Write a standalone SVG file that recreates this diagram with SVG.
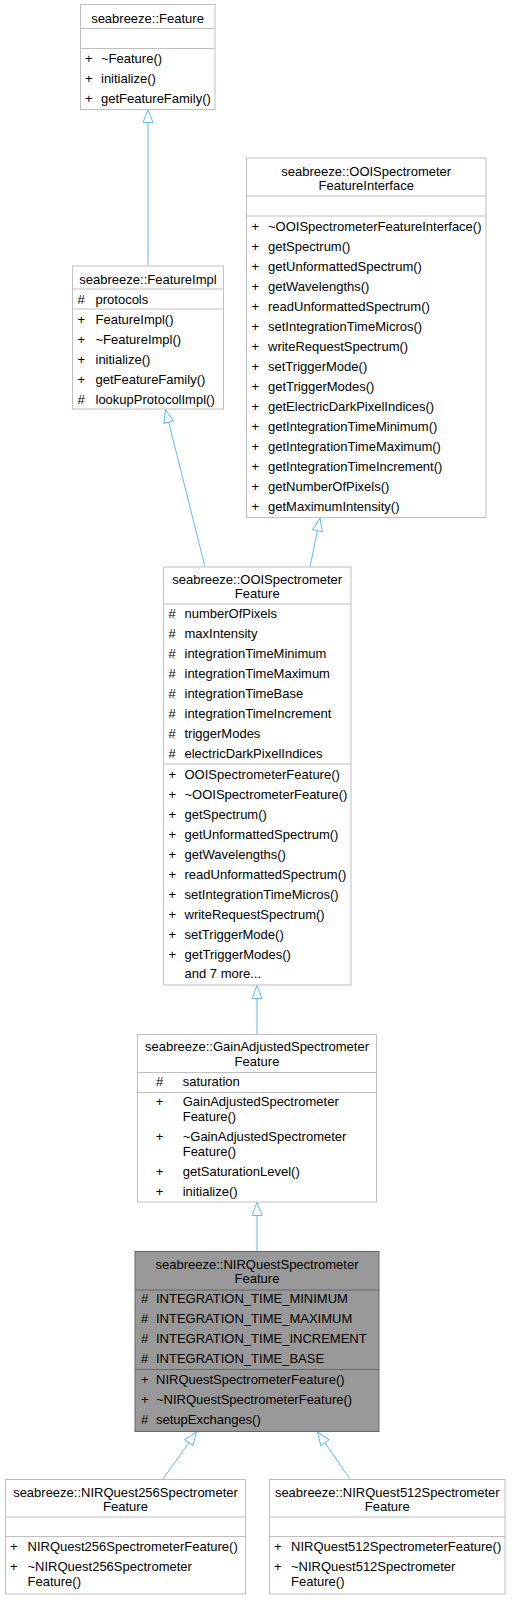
<svg xmlns="http://www.w3.org/2000/svg" width="515" height="1600" viewBox="0 0 515 1600">
<style>
text{font-family:"Liberation Sans",Arial,Helvetica,sans-serif;font-size:13px;fill:#000}
.c{text-anchor:middle}
.box{fill:#fff;stroke:#bfbfbf;stroke-width:1}
.sep{stroke:#bfbfbf;stroke-width:1}
.fbox{fill:#999999;stroke:#666666;stroke-width:1}
.fsep{stroke:#666666;stroke-width:1}
.edge{fill:none;stroke:#63b8ff;stroke-width:1;marker-end:url(#inh)}
</style>
<defs>
<marker id="inh" markerUnits="userSpaceOnUse" markerWidth="16" markerHeight="14" viewBox="-15 -7 16 14" refX="0" refY="0" orient="auto" overflow="visible">
<path d="M0,0 L-13,-5 L-13,5 Z" fill="#fff" stroke="#63b8ff" stroke-width="1"/>
</marker>
</defs>
<rect x="0" y="0" width="515" height="1600" fill="#fff"/>

<g id="connectors">
<path class="edge" d="M148,266 L148,109.5"/>
<path class="edge" d="M205,567 L165.5,409.5"/>
<path class="edge" d="M310,567 L320,518"/>
<path class="edge" d="M257,1034.5 L257,985.5"/>
<path class="edge" d="M257,1251.5 L257,1202.5"/>
<path class="edge" d="M163,1479 L196.5,1432"/>
<path class="edge" d="M350,1479 L317.5,1432"/>
</g>

<g id="feature">
<rect class="box" x="80.5" y="4.5" width="134.5" height="105"/>
<text class="c" x="147.5" y="22.5">seabreeze::Feature</text>
<line class="sep" x1="80.5" y1="28.5" x2="215" y2="28.5"/>
<line class="sep" x1="80.5" y1="48.5" x2="215" y2="48.5"/>
<text x="85" y="62.5">+</text><text x="101" y="62.5">~Feature()</text>
<text x="85" y="82.5">+</text><text x="101" y="82.5">initialize()</text>
<text x="85" y="102.5">+</text><text x="101" y="102.5">getFeatureFamily()</text>
</g>

<g id="featureimpl">
<rect class="box" x="72.5" y="266" width="151" height="143"/>
<text class="c" x="148" y="283.5">seabreeze::FeatureImpl</text>
<line class="sep" x1="72.5" y1="289" x2="223.5" y2="289"/>
<text x="77.5" y="303.5">#</text><text x="95.5" y="303.5">protocols</text>
<line class="sep" x1="72.5" y1="309" x2="223.5" y2="309"/>
<text x="77.5" y="323.5">+</text><text x="95.5" y="323.5">FeatureImpl()</text>
<text x="77.5" y="343.5">+</text><text x="95.5" y="343.5">~FeatureImpl()</text>
<text x="77.5" y="363.5">+</text><text x="95.5" y="363.5">initialize()</text>
<text x="77.5" y="383.5">+</text><text x="95.5" y="383.5">getFeatureFamily()</text>
<text x="77.5" y="403.5">#</text><text x="95.5" y="403.5">lookupProtocolImpl()</text>
</g>

<g id="ooifeatureinterface">
<rect class="box" x="246.5" y="158" width="239.5" height="359.5"/>
<text class="c" x="366.25" y="176">seabreeze::OOISpectrometer</text>
<text class="c" x="366.25" y="190">FeatureInterface</text>
<line class="sep" x1="246.5" y1="196" x2="486" y2="196"/>
<line class="sep" x1="246.5" y1="216" x2="486" y2="216"/>
<text x="251.5" y="230.5">+</text><text x="268" y="230.5">~OOISpectrometerFeatureInterface()</text>
<text x="251.5" y="250.5">+</text><text x="268" y="250.5">getSpectrum()</text>
<text x="251.5" y="270.5">+</text><text x="268" y="270.5">getUnformattedSpectrum()</text>
<text x="251.5" y="290.5">+</text><text x="268" y="290.5">getWavelengths()</text>
<text x="251.5" y="310.5">+</text><text x="268" y="310.5">readUnformattedSpectrum()</text>
<text x="251.5" y="330.5">+</text><text x="268" y="330.5">setIntegrationTimeMicros()</text>
<text x="251.5" y="350.5">+</text><text x="268" y="350.5">writeRequestSpectrum()</text>
<text x="251.5" y="370.5">+</text><text x="268" y="370.5">setTriggerMode()</text>
<text x="251.5" y="390.5">+</text><text x="268" y="390.5">getTriggerModes()</text>
<text x="251.5" y="410.5">+</text><text x="268" y="410.5">getElectricDarkPixelIndices()</text>
<text x="251.5" y="430.5">+</text><text x="268" y="430.5">getIntegrationTimeMinimum()</text>
<text x="251.5" y="450.5">+</text><text x="268" y="450.5">getIntegrationTimeMaximum()</text>
<text x="251.5" y="470.5">+</text><text x="268" y="470.5">getIntegrationTimeIncrement()</text>
<text x="251.5" y="490.5">+</text><text x="268" y="490.5">getNumberOfPixels()</text>
<text x="251.5" y="510.5">+</text><text x="268" y="510.5">getMaximumIntensity()</text>
</g>

<g id="ooifeature">
<rect class="box" x="163.5" y="567" width="187.5" height="418"/>
<text class="c" x="257.25" y="584">seabreeze::OOISpectrometer</text>
<text class="c" x="257.25" y="598">Feature</text>
<line class="sep" x1="163.5" y1="604" x2="351" y2="604"/>
<text x="168.5" y="618">#</text><text x="184.5" y="618">numberOfPixels</text>
<text x="168.5" y="638">#</text><text x="184.5" y="638">maxIntensity</text>
<text x="168.5" y="658">#</text><text x="184.5" y="658">integrationTimeMinimum</text>
<text x="168.5" y="678">#</text><text x="184.5" y="678">integrationTimeMaximum</text>
<text x="168.5" y="698">#</text><text x="184.5" y="698">integrationTimeBase</text>
<text x="168.5" y="718">#</text><text x="184.5" y="718">integrationTimeIncrement</text>
<text x="168.5" y="738">#</text><text x="184.5" y="738">triggerModes</text>
<text x="168.5" y="758">#</text><text x="184.5" y="758">electricDarkPixelIndices</text>
<line class="sep" x1="163.5" y1="764" x2="351" y2="764"/>
<text x="168.5" y="778.5">+</text><text x="184.5" y="778.5">OOISpectrometerFeature()</text>
<text x="168.5" y="798.5">+</text><text x="184.5" y="798.5">~OOISpectrometerFeature()</text>
<text x="168.5" y="818.5">+</text><text x="184.5" y="818.5">getSpectrum()</text>
<text x="168.5" y="838.5">+</text><text x="184.5" y="838.5">getUnformattedSpectrum()</text>
<text x="168.5" y="858.5">+</text><text x="184.5" y="858.5">getWavelengths()</text>
<text x="168.5" y="878.5">+</text><text x="184.5" y="878.5">readUnformattedSpectrum()</text>
<text x="168.5" y="898.5">+</text><text x="184.5" y="898.5">setIntegrationTimeMicros()</text>
<text x="168.5" y="918.5">+</text><text x="184.5" y="918.5">writeRequestSpectrum()</text>
<text x="168.5" y="938.5">+</text><text x="184.5" y="938.5">setTriggerMode()</text>
<text x="168.5" y="958.5">+</text><text x="184.5" y="958.5">getTriggerModes()</text>
<text x="184.5" y="978">and 7 more...</text>
</g>

<g id="gainadjusted">
<rect class="box" x="137.5" y="1034.5" width="239" height="167.5"/>
<text class="c" x="257" y="1051">seabreeze::GainAdjustedSpectrometer</text>
<text class="c" x="257" y="1065.5">Feature</text>
<line class="sep" x1="137.5" y1="1072.5" x2="376.5" y2="1072.5"/>
<text class="c" x="159.5" y="1086">#</text><text x="182.7" y="1086">saturation</text>
<line class="sep" x1="137.5" y1="1092.5" x2="376.5" y2="1092.5"/>
<text class="c" x="159.5" y="1106">+</text><text x="182.7" y="1106">GainAdjustedSpectrometer</text>
<text x="182.7" y="1121">Feature()</text>
<text class="c" x="159.5" y="1141">+</text><text x="182.7" y="1141">~GainAdjustedSpectrometer</text>
<text x="182.7" y="1156">Feature()</text>
<text class="c" x="159.5" y="1176">+</text><text x="182.7" y="1176">getSaturationLevel()</text>
<text class="c" x="159.5" y="1196">+</text><text x="182.7" y="1196">initialize()</text>
</g>

<g id="nirquest">
<rect class="fbox" x="135" y="1251.5" width="244" height="180"/>
<text class="c" x="257" y="1268.5">seabreeze::NIRQuestSpectrometer</text>
<text class="c" x="257" y="1282.5">Feature</text>
<line class="fsep" x1="135" y1="1290" x2="379" y2="1290"/>
<text x="141" y="1303">#</text><text x="156" y="1303">INTEGRATION_TIME_MINIMUM</text>
<text x="141" y="1323">#</text><text x="156" y="1323">INTEGRATION_TIME_MAXIMUM</text>
<text x="141" y="1343">#</text><text x="156" y="1343">INTEGRATION_TIME_INCREMENT</text>
<text x="141" y="1363">#</text><text x="156" y="1363">INTEGRATION_TIME_BASE</text>
<line class="fsep" x1="135" y1="1369.5" x2="379" y2="1369.5"/>
<text x="141" y="1384">+</text><text x="156" y="1384">NIRQuestSpectrometerFeature()</text>
<text x="141" y="1404">+</text><text x="156" y="1404">~NIRQuestSpectrometerFeature()</text>
<text x="141" y="1424">#</text><text x="156" y="1424">setupExchanges()</text>
</g>

<g id="nirquest256">
<rect class="box" x="5.5" y="1479.5" width="240" height="114.5"/>
<text class="c" x="125.5" y="1496.5">seabreeze::NIRQuest256Spectrometer</text>
<text class="c" x="125.5" y="1510.5">Feature</text>
<line class="sep" x1="5.5" y1="1517" x2="245.5" y2="1517"/>
<line class="sep" x1="5.5" y1="1536.5" x2="245.5" y2="1536.5"/>
<text x="10" y="1550.5">+</text><text x="27.5" y="1550.5">NIRQuest256SpectrometerFeature()</text>
<text x="10" y="1571">+</text><text x="27.5" y="1571">~NIRQuest256Spectrometer</text>
<text x="27.5" y="1586">Feature()</text>
</g>

<g id="nirquest512">
<rect class="box" x="269.5" y="1479.5" width="235.5" height="114.5"/>
<text class="c" x="387.25" y="1496.5">seabreeze::NIRQuest512Spectrometer</text>
<text class="c" x="387.25" y="1510.5">Feature</text>
<line class="sep" x1="269.5" y1="1517" x2="505" y2="1517"/>
<line class="sep" x1="269.5" y1="1536.5" x2="505" y2="1536.5"/>
<text x="274" y="1550.5">+</text><text x="291" y="1550.5">NIRQuest512SpectrometerFeature()</text>
<text x="274" y="1571">+</text><text x="291" y="1571">~NIRQuest512Spectrometer</text>
<text x="291" y="1586">Feature()</text>
</g>
</svg>
